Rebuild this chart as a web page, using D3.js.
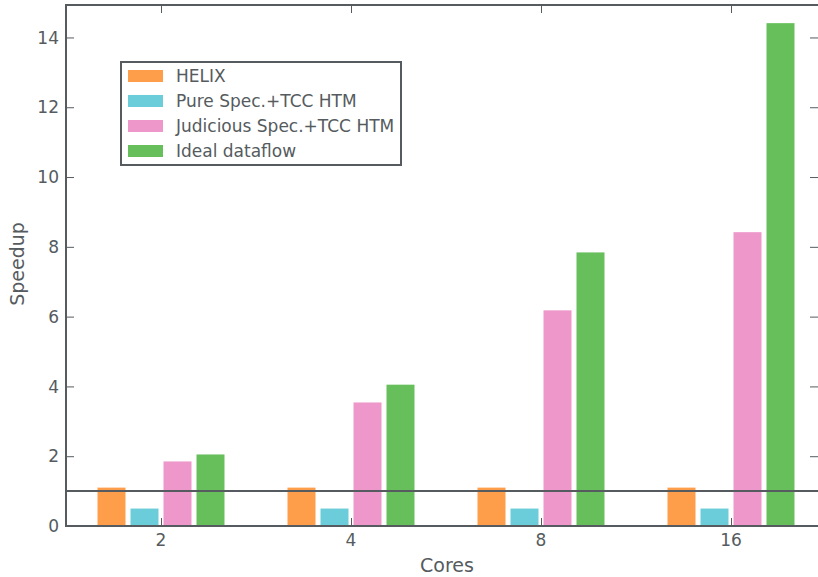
<!DOCTYPE html>
<html>
<head>
<meta charset="utf-8">
<script src="https://cdn.jsdelivr.net/npm/d3@7"></script>
<style>
  html, body { margin: 0; padding: 0; background: #fff; }
  svg { display: block; font-family: "DejaVu Sans", sans-serif; }
</style>
</head>
<body>
<svg id="chart" width="818" height="577"></svg>
<script>
// Speedup per core count for each scheme
const cores = ["2", "4", "8", "16"];
const seriesNames = ["HELIX", "Pure Spec.+TCC HTM", "Judicious Spec.+TCC HTM", "Ideal dataflow"];
const helix     = [1.1, 1.1, 1.1, 1.1];
const pureSpec  = [0.5, 0.5, 0.5, 0.5];
const judicious = [1.85, 3.54, 6.18, 8.42];
const ideal     = [2.05, 4.05, 7.84, 14.41];
const seriesColors = ["#ff9e4a", "#6ccdda", "#ed97ca", "#67bf5c"];
const yTicks = [0, 2, 4, 6, 8, 10, 12, 14];
const baseline = 1;

const values = [helix, pureSpec, judicious, ideal];
const axisColor = "#555b5e";
const textColor = "#555b5e";

const svg = d3.select("#chart");
const plotL = 66, plotR = 827, plotT = 5, plotB = 526;

// category centres spaced evenly across the plot
const xc = d3.scalePoint().domain(cores).range([161, 731]);
const groupHalf = 63.5;
const xs = d3.scaleBand().domain(seriesNames).range([-groupHalf, groupHalf]).paddingInner(5 / 33).paddingOuter(0);
const y = d3.scaleLinear().domain([0, 14.93]).range([plotB, plotT]);

// bars
const g = svg.append("g");
cores.forEach((c, i) => {
  seriesNames.forEach((s, j) => {
    g.append("rect")
      .attr("x", xc(c) + xs(s))
      .attr("y", y(values[j][i]))
      .attr("width", xs.bandwidth())
      .attr("height", y(0) - y(values[j][i]))
      .attr("fill", seriesColors[j]);
  });
});

// baseline at speedup 1
svg.append("line")
  .attr("x1", plotL).attr("x2", 818)
  .attr("y1", y(baseline)).attr("y2", y(baseline))
  .attr("stroke", axisColor).attr("stroke-width", 2);

// axes with inward ticks
const yAxisL = d3.axisRight(y).tickValues(yTicks).tickSize(8).tickFormat("");
svg.append("g").attr("transform", `translate(${plotL},0)`).call(yAxisL)
  .call(a => a.select(".domain").remove())
  .call(a => a.selectAll("line").attr("stroke", axisColor).attr("stroke-width", 1));
const yAxisR = d3.axisLeft(y).tickValues(yTicks).tickSize(8).tickFormat("");
svg.append("g").attr("transform", `translate(${plotR - 9},0)`).call(yAxisR)
  .call(a => a.select(".domain").remove())
  .call(a => a.selectAll("line").attr("stroke", axisColor).attr("stroke-width", 1));

// y tick labels
svg.append("g").selectAll("text").data(yTicks).join("text")
  .attr("x", plotL - 7).attr("y", d => y(d)).attr("dy", "0.36em")
  .attr("text-anchor", "end").attr("font-size", 17).attr("fill", textColor)
  .text(d => d);

const xAxisB = d3.axisTop(xc).tickSize(8).tickFormat("");
svg.append("g").attr("transform", `translate(0,${plotB})`).call(xAxisB)
  .call(a => a.select(".domain").remove())
  .call(a => a.selectAll("line").attr("stroke", axisColor).attr("stroke-width", 1));
const xAxisT = d3.axisBottom(xc).tickSize(8).tickFormat("");
svg.append("g").attr("transform", `translate(0,${plotT})`).call(xAxisT)
  .call(a => a.select(".domain").remove())
  .call(a => a.selectAll("line").attr("stroke", axisColor).attr("stroke-width", 1));

svg.append("g").selectAll("text").data(cores).join("text")
  .attr("x", d => xc(d)).attr("y", plotB + 20)
  .attr("text-anchor", "middle").attr("font-size", 17).attr("fill", textColor)
  .text(d => d);

// frame
svg.append("rect")
  .attr("x", plotL).attr("y", plotT)
  .attr("width", plotR - plotL).attr("height", plotB - plotT)
  .attr("fill", "none").attr("stroke", axisColor).attr("stroke-width", 2);

// axis titles
svg.append("text")
  .attr("x", 447).attr("y", 572)
  .attr("text-anchor", "middle").attr("font-size", 19).attr("fill", textColor)
  .text("Cores");
svg.append("text")
  .attr("transform", "translate(24,264) rotate(-90)")
  .attr("text-anchor", "middle").attr("font-size", 19).attr("fill", textColor)
  .text("Speedup");

// legend
const lg = svg.append("g").attr("transform", "translate(121,62)");
lg.append("rect").attr("width", 280).attr("height", 103)
  .attr("fill", "#fff").attr("stroke", axisColor).attr("stroke-width", 2);
seriesNames.forEach((s, j) => {
  const row = lg.append("g").attr("transform", `translate(0,${14 + j * 25})`);
  row.append("rect").attr("x", 7).attr("y", -6).attr("width", 35).attr("height", 12)
    .attr("fill", seriesColors[j]);
  row.append("text").attr("x", 55).attr("y", 0).attr("dy", "0.36em")
    .attr("font-size", 17).attr("fill", textColor).text(s);
});
</script>
</body>
</html>
